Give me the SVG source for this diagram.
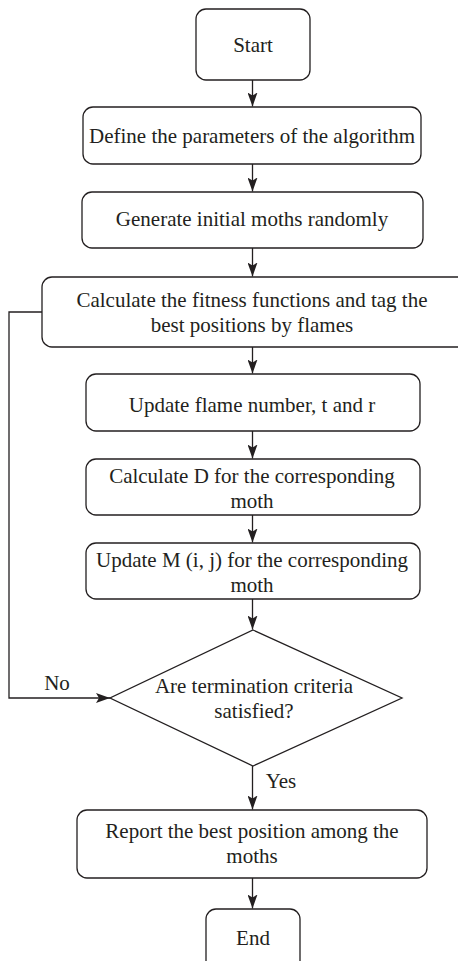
<svg xmlns="http://www.w3.org/2000/svg" width="458" height="961" viewBox="0 0 458 961">
  <defs>
    <marker id="arrow" viewBox="0 0 14 10" refX="14" refY="5" markerWidth="14" markerHeight="10" markerUnits="userSpaceOnUse" orient="auto">
      <path d="M0,0 L14,5 L0,10 L3,5 Z" fill="#231f20"/>
    </marker>
  </defs>
  <style>
    .box { fill: #ffffff; stroke: #231f20; stroke-width: 1.3; }
    .edge { fill: none; stroke: #231f20; stroke-width: 1.3; marker-end: url(#arrow); }
    text { font-family: "Liberation Serif", "Times New Roman", serif; font-size: 21px; fill: #231f20; text-anchor: middle; }
  </style>
  <rect width="458" height="961" fill="#ffffff"/>

  <g id="start">
    <rect class="box" x="196" y="9" width="114" height="71" rx="10"/>
    <text x="253" y="52">Start</text>
  </g>

  <g id="define-params">
    <rect class="box" x="83" y="107" width="338" height="57" rx="10"/>
    <text x="252" y="143">Define the parameters of the algorithm</text>
  </g>

  <g id="generate-moths">
    <rect class="box" x="82" y="192" width="341" height="56" rx="10"/>
    <text x="252" y="226">Generate initial moths randomly</text>
  </g>

  <g id="fitness">
    <rect class="box" x="42" y="277" width="430" height="70" rx="10"/>
    <text x="252" y="307">Calculate the fitness functions and tag the</text>
    <text x="252" y="332">best positions by flames</text>
  </g>

  <g id="update-flame">
    <rect class="box" x="86" y="374" width="334" height="57" rx="10"/>
    <text x="252" y="412">Update flame number, t and r</text>
  </g>

  <g id="calc-d">
    <rect class="box" x="86" y="459" width="334" height="56" rx="10"/>
    <text x="252" y="483">Calculate D for the corresponding</text>
    <text x="252" y="508">moth</text>
  </g>

  <g id="update-m">
    <rect class="box" x="86" y="543" width="334" height="56" rx="10"/>
    <text x="252" y="567">Update M (i, j) for the corresponding</text>
    <text x="252" y="592">moth</text>
  </g>

  <g id="termination">
    <polygon class="box" points="253,630 402,698 253,766 110,698"/>
    <text x="254" y="693">Are termination criteria</text>
    <text x="254" y="718">satisfied?</text>
  </g>

  <g id="report">
    <rect class="box" x="77" y="810" width="350" height="68" rx="10"/>
    <text x="252" y="838">Report the best position among the</text>
    <text x="252" y="863">moths</text>
  </g>

  <g id="end">
    <rect class="box" x="206" y="909" width="94" height="70" rx="10"/>
    <text x="253" y="945">End</text>
  </g>

  <g id="connectors">
    <line class="edge" x1="252.5" y1="80" x2="252.5" y2="106.5"/>
    <line class="edge" x1="252.5" y1="164" x2="252.5" y2="191.5"/>
    <line class="edge" x1="252.5" y1="248" x2="252.5" y2="276.5"/>
    <line class="edge" x1="252.5" y1="347" x2="252.5" y2="373.5"/>
    <line class="edge" x1="252.5" y1="431" x2="252.5" y2="458.5"/>
    <line class="edge" x1="252.5" y1="515" x2="252.5" y2="542.5"/>
    <line class="edge" x1="252.5" y1="599" x2="252.5" y2="629.5"/>
    <line class="edge" x1="252.5" y1="766" x2="252.5" y2="809.5"/>
    <line class="edge" x1="252.5" y1="878" x2="252.5" y2="908.5"/>
    <polyline class="edge" points="42,312 9,312 9,698 110,698"/>
    <text x="57" y="690">No</text>
    <text x="281" y="788">Yes</text>
  </g>
</svg>
